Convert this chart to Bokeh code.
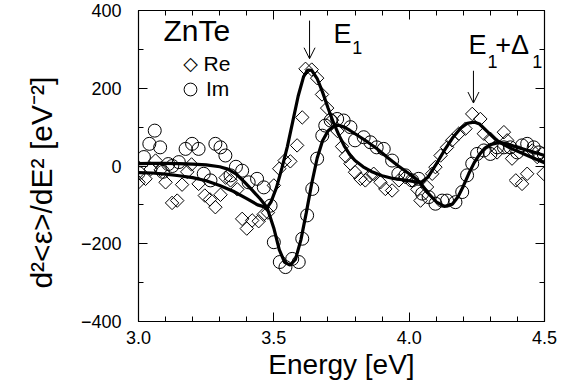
import math
from bokeh.plotting import figure
from bokeh.models import (LinearAxis, FixedTicker, NumeralTickFormatter, Label,
                          Arrow, OpenHead, Legend, LegendItem, Range1d)
from bokeh.embed import file_html
from bokeh.resources import INLINE

# ---------------- data ----------------
re_E = [3.000, 3.026, 3.045, 3.063, 3.082, 3.100, 3.124, 3.143, 3.161, 3.180,
        3.196, 3.222, 3.245, 3.264, 3.284, 3.303, 3.322, 3.340, 3.365, 3.383,
        3.400, 3.420, 3.444, 3.462, 3.478, 3.500, 3.520, 3.540, 3.561, 3.586,
        3.605, 3.617, 3.640, 3.660, 3.678, 3.697, 3.715, 3.735, 3.752, 3.766,
        3.783, 3.800, 3.820, 3.838, 3.855, 3.869, 3.894, 3.912, 3.937, 3.962,
        3.986, 4.011, 4.030, 4.042, 4.066, 4.085, 4.097, 4.116, 4.140, 4.159,
        4.183, 4.208, 4.233, 4.263, 4.276, 4.300, 4.325, 4.350, 4.362, 4.380,
        4.394, 4.417, 4.436, 4.455, 4.473, 4.497]
re_val = [-42, -33, -8, 14, -10, -42, -95, -89, -48, -15,
          4, -46, -76, -86, -106, -74, -30, -37, -60, -136,
          -161, -140, -142, -125, -120, -50, -7, 14, 12, 53,
          125, 250, 248, 226, 184, 149, 118, 90, 50, 25,
          6, -16, -33, -37, -25, -20, -42, -59, -63, -37,
          -29, -37, -60, -89, -54, -20, -3, 27, 48, 66,
          83, 96, 134, 121, 83, 70, 35, 87, 66, 19,
          -37, -46, -20, 40, 23, -20]

im_E = [3.000, 3.020, 3.040, 3.060, 3.080, 3.090, 3.110, 3.125, 3.149, 3.174,
        3.198, 3.222, 3.241, 3.266, 3.284, 3.303, 3.321, 3.340, 3.360, 3.383,
        3.407, 3.438, 3.463, 3.488, 3.500, 3.522, 3.543, 3.568, 3.592, 3.605,
        3.623, 3.642, 3.660, 3.679, 3.690, 3.710, 3.734, 3.758, 3.783, 3.800,
        3.832, 3.857, 3.880, 3.906, 3.937, 3.960, 3.986, 4.011, 4.035, 4.048,
        4.072, 4.097, 4.122, 4.140, 4.171, 4.196, 4.214, 4.233, 4.251, 4.276,
        4.300, 4.325, 4.350, 4.374, 4.399, 4.417, 4.436, 4.460, 4.479, 4.497]
im_val = [-18, 23, 57, 91, 48, -15, 5, 0, 10, 44,
          57, 44, -20, -37, 57, 48, 27, -24, -2, -12,
          -42, -33, -55, -102, -196, -247, -260, -239, -247, -187,
          -127, -59, 19, 78, 104, 117, 121, 117, 100, 66,
          74, 61, 48, 44, 14, -20, -24, -37, -33, -71,
          -80, -97, -89, -89, -93, -67, -24, 6, 31, 40,
          31, 48, 48, 48, 35, 53, 57, 48, 35, 31]

re_fit_E = [3.00, 3.05, 3.10, 3.15, 3.20, 3.25, 3.30, 3.35, 3.40, 3.44,
            3.475, 3.49, 3.51, 3.53, 3.55, 3.57, 3.59, 3.61, 3.625, 3.64,
            3.66, 3.68, 3.70, 3.72, 3.74, 3.76, 3.78, 3.80, 3.83, 3.86,
            3.90, 3.94, 3.98, 4.02, 4.045, 4.07, 4.10, 4.13, 4.16, 4.19,
            4.215, 4.24, 4.26, 4.29, 4.32, 4.35, 4.38, 4.42, 4.46, 4.50]
re_fit_val = [-17, -18, -21, -25, -30, -38, -50, -65, -84, -100,
              -107, -92, -55, -5, 50, 115, 180, 230, 247, 246,
              225, 190, 150, 112, 80, 52, 30, 14, -2, -14,
              -25, -32, -36, -40, -42, -28, 5, 40, 72, 97,
              110, 113, 108, 88, 68, 55, 44, 32, 20, 8]

im_fit_E = [3.00, 3.05, 3.10, 3.15, 3.20, 3.25, 3.30, 3.33, 3.36, 3.39,
            3.42, 3.45, 3.475, 3.50, 3.52, 3.54, 3.56, 3.58, 3.60, 3.62,
            3.64, 3.66, 3.68, 3.70, 3.72, 3.74, 3.76, 3.78, 3.80, 3.84,
            3.88, 3.92, 3.96, 4.00, 4.04, 4.07, 4.10, 4.13, 4.16, 4.18,
            4.20, 4.22, 4.24, 4.26, 4.28, 4.30, 4.33, 4.36, 4.40, 4.45, 4.50]
im_fit_val = [6, 7, 7, 6, 5, 3, -2, -8, -20, -40,
              -62, -85, -107, -160, -215, -248, -255, -240, -190, -120,
              -45, 20, 65, 90, 102, 105, 100, 92, 83, 65,
              45, 22, 0, -20, -42, -70, -92, -104, -98, -80,
              -52, -20, 8, 30, 46, 55, 60, 57, 48, 38, 27]

x_ticks = [3.0, 3.5, 4.0, 4.5]
x_minor = [3.1, 3.2, 3.3, 3.4, 3.6, 3.7, 3.8, 3.9, 4.1, 4.2, 4.3, 4.4]
y_ticks = [-400, -200, 0, 200, 400]
y_minor = [-300, -100, 100, 300]
y_tick_labels = ["\u2212400", "\u2212200", "0", "200", "400"]

FONT = "Liberation Sans"

p = figure(width=578, height=388, output_backend="svg", toolbar_location=None,
           x_range=Range1d(3.0, 4.5), y_range=Range1d(-400, 400),
           min_border_left=138, min_border_right=34, min_border_top=10,
           min_border_bottom=67)
p.background_fill_color = "white"
p.border_fill_color = "white"
p.outline_line_color = "black"
p.outline_line_width = 1.2
p.xgrid.visible = False
p.ygrid.visible = False

xt = FixedTicker(ticks=x_ticks, minor_ticks=x_minor)
yt = FixedTicker(ticks=y_ticks, minor_ticks=y_minor)


def style_axis(ax):
    ax.major_tick_in = 9
    ax.major_tick_out = 0
    ax.minor_tick_in = 5
    ax.minor_tick_out = 0
    ax.major_tick_line_color = "black"
    ax.minor_tick_line_color = "black"
    ax.axis_line_color = "black"
    ax.major_label_text_font = FONT
    ax.major_label_text_color = "black"
    ax.major_label_text_font_size = "18px"
    ax.axis_label_text_font = FONT
    ax.axis_label_text_font_style = "normal"
    ax.axis_label_text_color = "black"


xa = p.xaxis[0]
xa.ticker = xt
xa.formatter = NumeralTickFormatter(format="0.0")
style_axis(xa)
xa.major_label_standoff = 9
xa.axis_label = "Energy [eV]"
xa.axis_label_text_font_size = "28px"
xa.axis_label_standoff = 2

ya = p.yaxis[0]
ya.ticker = yt
ya.major_label_overrides = {v: t for v, t in zip(y_ticks, y_tick_labels)}
style_axis(ya)
ya.major_label_standoff = 17
ya.axis_label = "d\u00b2<\u03b5>/dE\u00b2 [eV\u207b\u00b2]" + "\u00a0" * 4
ya.axis_label_text_font_size = "30px"
ya.axis_label_standoff = 20

# mirrored tick marks (top and right), without labels
top = LinearAxis(ticker=xt)
style_axis(top)
top.major_label_overrides = {v: "" for v in x_ticks}
top.major_label_standoff = 0
p.add_layout(top, "above")
right = LinearAxis(ticker=yt)
style_axis(right)
right.major_label_overrides = {v: "" for v in y_ticks}
right.major_label_standoff = 0
p.add_layout(right, "right")

# fits
p.line(re_fit_E, re_fit_val, line_color="black", line_width=3.2)
p.line(im_fit_E, im_fit_val, line_color="black", line_width=3.2)

# data
r_re = p.scatter(re_E, re_val, marker="square", angle=math.pi / 4, size=9.5,
                 fill_color=None, line_color="black", line_width=1)
r_im = p.scatter(im_E, im_val, marker="circle", size=13,
                 fill_color=None, line_color="black", line_width=1)

lg = Legend(items=[LegendItem(label="Im", renderers=[r_im])],
            location=(36, 216), padding=0, margin=0, spacing=0,
            glyph_width=32, glyph_height=32, label_height=32,
            label_standoff=0, border_line_color=None,
            background_fill_alpha=0)
lg.label_text_font = FONT
lg.label_text_font_size = "21px"
lg.label_text_color = "black"
p.add_layout(lg)


# texts
def lab(x, y, t, size, font=FONT, **kw):
    l = Label(x=x, y=y, text=t, text_font=font, text_font_size=size,
              text_color="black", **kw)
    p.add_layout(l)
    return l


lab(3.092, 305, "ZnTe", "30px")
# legend entry for Re (diamond symbol + label)
lab(3.192, 264, "\u25c7", "19px", font="DejaVu Sans",
    text_align="center", text_baseline="middle")
lab(3.240, 264, "Re", "21px", text_baseline="middle")

lab(3.72, 302, "E", "27px")
lab(3.79, 287, "1", "18px")
lab(4.219, 272, "E", "27px")
lab(4.289, 251, "1", "18px")
lab(4.318, 272, "+\u0394", "27px")
lab(4.455, 251, "1", "18px")

p.add_layout(Arrow(end=OpenHead(size=11, line_width=1, line_color="black"),
                   x_start=3.632, y_start=374, x_end=3.632, y_end=276,
                   line_width=1, line_color="black"))
p.add_layout(Arrow(end=OpenHead(size=11, line_width=1, line_color="black"),
                   x_start=4.2375, y_start=245, x_end=4.2375, y_end=162,
                   line_width=1, line_color="black"))

open("out.html", "w").write(file_html(p, INLINE))
